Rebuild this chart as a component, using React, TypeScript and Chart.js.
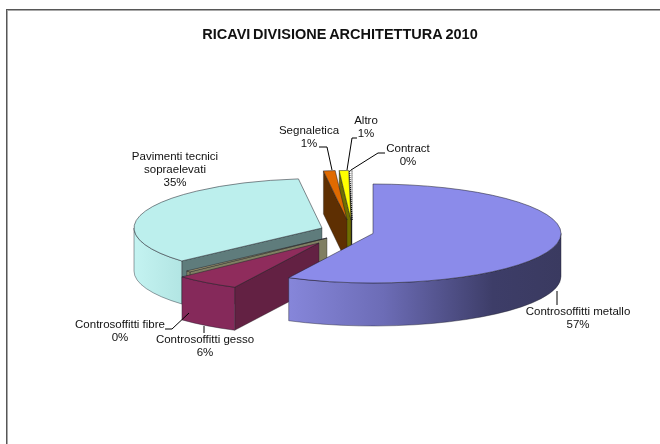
import React, { useEffect, useRef } from "react";
import { Chart, registerables } from "chart.js";

Chart.register(...registerables);

const categories = [
  "Controsoffitti metallo",
  "Controsoffitti gesso",
  "Controsoffitti fibre",
  "Pavimenti tecnici\nsopraelevati",
  "Segnaletica",
  "Altro",
  "Contract",
];
const revenueShare = [57.4, 5.6, 0.4, 34.6, 1.0, 0.8, 0.2];
const titleText = "RICAVI DIVISIONE ARCHITETTURA 2010";

const topColors = ["#8b8bea", "#8f2c5c", "#a39a72", "#bcefed", "#e06a00", "#ffff00", "#ffffff"];
const sideColors = ["#6a6ab4", "#632143", "#807f62", "#5f7c7c", "#5e2f02", "#6f6f00", "#222222"];
const wallStops = [
  [[0, "#8686da"], [0.35, "#6c6cb6"], [0.75, "#3d3d68"], [1, "#3a3a60"]],
  [[0, "#85295a"], [1, "#85295a"]],
  [[0, "#807f62"], [1, "#807f62"]],
  [[0, "#c4f3f1"], [1, "#b2e5e3"]],
  [[0, "#5e2f02"], [1, "#5e2f02"]],
  [[0, "#6f6f00"], [1, "#6f6f00"]],
  [[0, "#222222"], [1, "#222222"]],
];

// Pie geometry: squash factor, extrusion height and how far each slice is pulled out.
const SQUASH = 49.5 / 188;
const DEPTH = 43;
const pullOut = [[0, 0], [-54, 9.5], [-46, 4.5], [-51, -5.5], [-26, -13.5], [-22, -13.5], [-21, -13.5]];
const paintOrder = [3, 2, 6, 5, 4, 1, 0];

// Label anchors and leader lines.
const labelLayout = [
  { x: 578, y: 312, leader: [[557, 291], [557, 305]] },
  { x: 205, y: 340, leader: [[204, 326], [204, 333]] },
  { x: 120, y: 325, leader: [[189, 313], [172, 329], [165, 329]] },
  { x: 175, y: 157, leader: [] },
  { x: 309, y: 131, leader: [[332, 170], [327, 147], [319, 147]] },
  { x: 366, y: 121, leader: [[347, 170], [352, 138], [357, 138]] },
  { x: 408, y: 149, leader: [[351, 170], [378, 153], [385, 153]] },
];

const pie3d = {
  id: "pie3d",
  beforeDraw(chart: any) {
    const { ctx } = chart;
    ctx.save();
    ctx.fillStyle = "#575757";
    ctx.fillRect(6, 9, 654, 1);
    ctx.fillRect(6, 9, 1, 435);
    ctx.fillStyle = "#a8a8a8";
    ctx.fillRect(7, 10, 653, 1);
    ctx.fillRect(7, 10, 1, 434);
    ctx.restore();
  },
  beforeDatasetsDraw(chart: any) {
    const { ctx } = chart;
    const arcs = chart.getDatasetMeta(0).data;
    for (const i of paintOrder) {
      const arc = arcs[i];
      const { x, y, outerRadius: r, startAngle: a0, endAngle: a1 } = arc;
      const cx = x + pullOut[i][0];
      const cy = y + pullOut[i][1];
      const ry = r * SQUASH;
      const pt = (a: number) => [cx + r * Math.cos(a), cy + ry * Math.sin(a)];
      const mid = pt((a0 + a1) / 2);

      // Cut faces hanging below the top surface.
      for (const a of [a0, a1]) {
        const p = pt(a);
        const cross = (p[0] - cx) * (mid[1] - cy) - (p[1] - cy) * (mid[0] - cx);
        const facing = p[0] - cx >= 0 ? cross < 0 : cross > 0;
        if (!facing) continue;
        ctx.beginPath();
        ctx.moveTo(cx, cy);
        ctx.lineTo(p[0], p[1]);
        ctx.lineTo(p[0], p[1] + DEPTH);
        ctx.lineTo(cx, cy + DEPTH);
        ctx.closePath();
        ctx.fillStyle = sideColors[i];
        ctx.fill();
        ctx.strokeStyle = "rgba(30,30,30,0.6)";
        ctx.lineWidth = 0.6;
        ctx.stroke();
      }

      // Outer wall, only where the rim faces the viewer.
      const w0 = Math.max(a0, 0);
      const w1 = Math.min(a1, Math.PI);
      if (w1 > w0) {
        const pa = pt(w0);
        const pb = pt(w1);
        const grad = ctx.createLinearGradient(pb[0], 0, pa[0], 0);
        for (const [o, c] of wallStops[i]) grad.addColorStop(o as number, c as string);
        ctx.beginPath();
        ctx.ellipse(cx, cy, r, ry, 0, w0, w1);
        ctx.lineTo(pb[0], pb[1] + DEPTH);
        ctx.ellipse(cx, cy + DEPTH, r, ry, 0, w1, w0, true);
        ctx.closePath();
        ctx.fillStyle = grad;
        ctx.fill();
        ctx.strokeStyle = "rgba(30,30,40,0.7)";
        ctx.lineWidth = 0.6;
        ctx.stroke();
      }

      // Top surface: the library's own arc, flattened onto the pie plane.
      ctx.save();
      ctx.translate(cx, cy);
      ctx.scale(1, SQUASH);
      ctx.translate(-x, -y);
      arc.draw(ctx);
      ctx.restore();

      ctx.beginPath();
      ctx.moveTo(cx, cy);
      ctx.ellipse(cx, cy, r, ry, 0, a0, a1);
      ctx.closePath();
      ctx.save();
      if (i === 6) {
        ctx.setLineDash([1, 1]);
        ctx.strokeStyle = "#000000";
        ctx.lineWidth = 1;
      } else {
        ctx.strokeStyle = "rgba(30,30,40,0.75)";
        ctx.lineWidth = 0.7;
      }
      ctx.stroke();
      ctx.restore();
    }
    return false;
  },
  afterDraw(chart: any) {
    const { ctx } = chart;
    const total = revenueShare.reduce((s, v) => s + v, 0);
    ctx.save();
    ctx.fillStyle = "#111111";
    ctx.textAlign = "center";
    ctx.textBaseline = "middle";
    ctx.font = 'bold 14.5px "Liberation Sans"';
    ctx.wordSpacing = "-1.3px";
    ctx.fillText(titleText, 340, 34.5);
    ctx.wordSpacing = "0px";

    ctx.font = '11.5px "Liberation Sans"';
    categories.forEach((name, i) => {
      const { x, y, leader } = labelLayout[i];
      const lines = [...name.split("\n"), `${Math.round((revenueShare[i] / total) * 100)}%`];
      lines.forEach((line, n) => ctx.fillText(line, x, y + n * 13));
      if (leader.length) {
        ctx.beginPath();
        leader.forEach(([lx, ly], n) => (n ? ctx.lineTo(lx, ly) : ctx.moveTo(lx, ly)));
        ctx.strokeStyle = "#000000";
        ctx.lineWidth = 1;
        ctx.stroke();
      }
    });
    ctx.restore();
  },
};

export default function App() {
  const canvasRef = useRef<HTMLCanvasElement>(null);

  useEffect(() => {
    document.body.style.margin = "0";
    const chart = new Chart(canvasRef.current!, {
      type: "pie",
      data: {
        labels: categories,
        datasets: [
          {
            data: revenueShare,
            backgroundColor: topColors,
            borderWidth: 0,
          },
        ],
      },
      options: {
        responsive: false,
        animation: false,
        layout: { padding: { left: 185, right: 99, top: 45.5, bottom: 22.5 } },
        plugins: { legend: { display: false }, tooltip: { enabled: false } },
      },
      plugins: [pie3d],
    });
    return () => chart.destroy();
  }, []);

  return <canvas ref={canvasRef} width={660} height={444} style={{ display: "block" }} />;
}
